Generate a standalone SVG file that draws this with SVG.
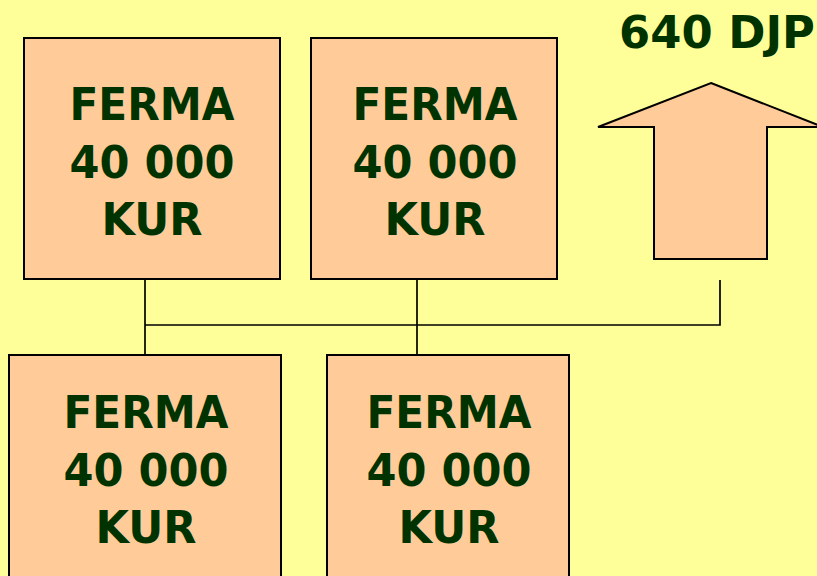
<svg xmlns="http://www.w3.org/2000/svg" width="817" height="576" viewBox="0 0 817 576">
<style>
.box{fill:#FFCC99;stroke:#000;stroke-width:2}
.t{font-family:"DejaVu Sans","Verdana",sans-serif;font-weight:bold;font-size:45px;fill:#003300;text-anchor:middle}
.c{fill:none;stroke:#000;stroke-width:1.7}
</style>
<rect width="817" height="576" fill="#FFFF99"/>
<g id="connectors">
<line class="c" x1="145" y1="280" x2="145" y2="355"/>
<line class="c" x1="417" y1="280" x2="417" y2="355"/>
<polyline class="c" points="145,325 720,325 720,280"/>
</g>
<g id="ferma1">
<rect class="box" x="24" y="38" width="256" height="241"/>
<text class="t" x="152" y="120" textLength="165" lengthAdjust="spacingAndGlyphs">FERMA</text>
<text class="t" x="152" y="178" textLength="165" lengthAdjust="spacingAndGlyphs">40 000</text>
<text class="t" x="152" y="235" textLength="101" lengthAdjust="spacingAndGlyphs">KUR</text>
</g>
<g id="ferma2">
<rect class="box" x="311" y="38" width="246" height="241"/>
<text class="t" x="435" y="120" textLength="165" lengthAdjust="spacingAndGlyphs">FERMA</text>
<text class="t" x="435" y="178" textLength="165" lengthAdjust="spacingAndGlyphs">40 000</text>
<text class="t" x="435" y="235" textLength="101" lengthAdjust="spacingAndGlyphs">KUR</text>
</g>
<g id="ferma3">
<rect class="box" x="9" y="355" width="272" height="230"/>
<text class="t" x="146" y="428" textLength="165" lengthAdjust="spacingAndGlyphs">FERMA</text>
<text class="t" x="146" y="486" textLength="165" lengthAdjust="spacingAndGlyphs">40 000</text>
<text class="t" x="146" y="543" textLength="101" lengthAdjust="spacingAndGlyphs">KUR</text>
</g>
<g id="ferma4">
<rect class="box" x="327" y="355" width="242" height="230"/>
<text class="t" x="449" y="428" textLength="165" lengthAdjust="spacingAndGlyphs">FERMA</text>
<text class="t" x="449" y="486" textLength="165" lengthAdjust="spacingAndGlyphs">40 000</text>
<text class="t" x="449" y="543" textLength="101" lengthAdjust="spacingAndGlyphs">KUR</text>
</g>
<g id="arrow">
<polygon class="box" points="711,83 823,127 767,127 767,259 654,259 654,127 598,127"/>
</g>
<g id="label">
<text class="t" x="619" y="48" style="text-anchor:start" textLength="196" lengthAdjust="spacingAndGlyphs">640 DJP</text>
</g>
</svg>
